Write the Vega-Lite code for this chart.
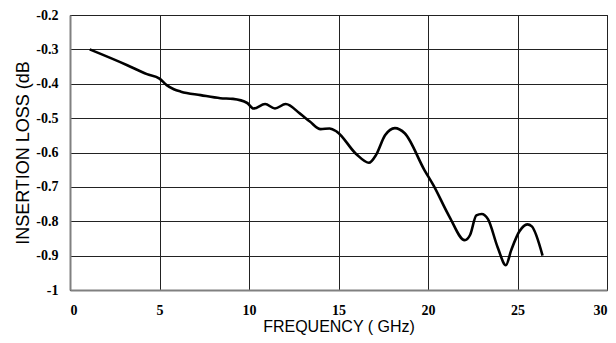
{
  "$schema": "https://vega.github.io/schema/vega-lite/v6.json",
  "width": 537,
  "height": 275,
  "autosize": {"type": "none"},
  "padding": {"left": 70, "top": 15, "right": 9, "bottom": 53},
  "background": "white",
  "config": {
    "view": {"stroke": "#000000", "strokeWidth": 1},
    "axis": {
      "domainColor": "#808080",
      "domainWidth": 2,
      "gridColor": "#222222",
      "gridWidth": 1,
      "gridOpacity": 1,
      "ticks": false,
      "labelFont": "Liberation Serif",
      "labelFontWeight": "bold",
      "labelColor": "#000000",
      "titleFont": "Liberation Sans",
      "titleFontWeight": "normal",
      "titleColor": "#000000"
    }
  },
  "data": {
    "values": [
      {"freq": 1.1, "loss": -0.300},
      {"freq": 3.2, "loss": -0.346},
      {"freq": 4.3, "loss": -0.372},
      {"freq": 5.0, "loss": -0.385},
      {"freq": 5.4, "loss": -0.404},
      {"freq": 5.8, "loss": -0.416},
      {"freq": 6.2, "loss": -0.423},
      {"freq": 7.3, "loss": -0.433},
      {"freq": 8.4, "loss": -0.442},
      {"freq": 9.1, "loss": -0.444},
      {"freq": 9.9, "loss": -0.456},
      {"freq": 10.25, "loss": -0.472},
      {"freq": 10.9, "loss": -0.459},
      {"freq": 11.45, "loss": -0.472},
      {"freq": 12.05, "loss": -0.459},
      {"freq": 12.85, "loss": -0.487},
      {"freq": 13.4, "loss": -0.510},
      {"freq": 14.0, "loss": -0.532},
      {"freq": 14.5, "loss": -0.530},
      {"freq": 14.9, "loss": -0.539},
      {"freq": 16.0, "loss": -0.605},
      {"freq": 16.7, "loss": -0.630},
      {"freq": 17.1, "loss": -0.607},
      {"freq": 17.6, "loss": -0.550},
      {"freq": 18.15, "loss": -0.529},
      {"freq": 18.7, "loss": -0.544},
      {"freq": 19.8, "loss": -0.651},
      {"freq": 20.3, "loss": -0.695},
      {"freq": 21.2, "loss": -0.787},
      {"freq": 22.05, "loss": -0.855},
      {"freq": 22.35, "loss": -0.840},
      {"freq": 22.7, "loss": -0.783},
      {"freq": 23.0, "loss": -0.779},
      {"freq": 23.35, "loss": -0.794},
      {"freq": 23.9, "loss": -0.877},
      {"freq": 24.35, "loss": -0.928},
      {"freq": 24.65, "loss": -0.884},
      {"freq": 25.1, "loss": -0.830},
      {"freq": 25.55, "loss": -0.809},
      {"freq": 25.8, "loss": -0.815},
      {"freq": 26.4, "loss": -0.900}
    ]
  },
  "mark": {"type": "line", "color": "#000000", "strokeWidth": 2.6, "interpolate": "monotone"},
  "encoding": {
    "x": {
      "field": "freq",
      "type": "quantitative",
      "scale": {"domain": [0, 30], "nice": false, "zero": false},
      "axis": {
        "values": [0, 5, 10, 15, 20, 25, 30],
        "title": "FREQUENCY ( GHz)",
        "titleFontSize": 16,
        "titlePadding": 1,
        "labelFontSize": 14,
        "labelPadding": 13
      }
    },
    "y": {
      "field": "loss",
      "type": "quantitative",
      "scale": {"domain": [-1, -0.2], "nice": false, "zero": false},
      "axis": {
        "values": [-1, -0.9, -0.8, -0.7, -0.6, -0.5, -0.4, -0.3, -0.2],
        "format": ".1~f",
        "labelExpr": "replace(datum.label, '\u2212', '-')",
        "title": "INSERTION LOSS (dB",
        "titleFontSize": 18,
        "titlePadding": 3,
        "labelFontSize": 14,
        "labelPadding": 12
      }
    }
  }
}
